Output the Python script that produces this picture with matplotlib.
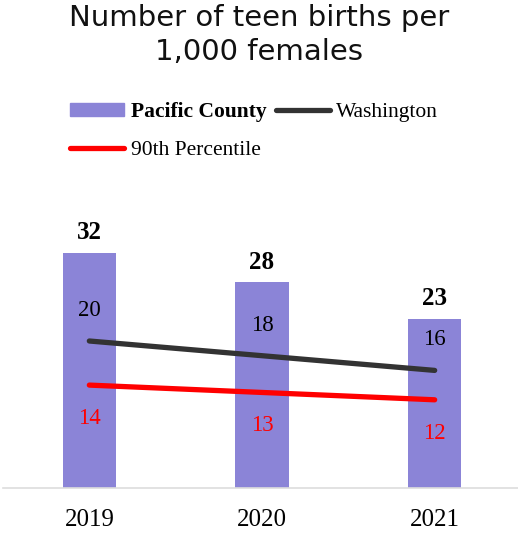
import matplotlib
matplotlib.use("Agg")
import matplotlib.pyplot as plt
from matplotlib.patches import Patch
from matplotlib.lines import Line2D

years = ["2019", "2020", "2021"]
pacific = [32, 28, 23]
washington = [20, 18, 16]
pct90 = [14, 13, 12]

PURPLE = "#8B84D7"
DARK = "#333333"
RED = "#FF0000"
SERIF = "Liberation Serif"

fig = plt.figure(figsize=(5.18, 5.33), dpi=100)
ax = fig.add_axes([3/518, 45/533, 1.0, 294/533])
x = list(range(len(years)))

ax.bar(x, pacific, width=0.31, color=PURPLE, zorder=1)
ax.plot(x, washington, color=DARK, lw=3.8, solid_capstyle="round", zorder=2)
ax.plot(x, pct90, color=RED, lw=3.8, solid_capstyle="round", zorder=2)

ax.set_xlim(-0.5, 2.5)
ax.set_ylim(0, 40)

for xi, v in zip(x, pacific):
    ax.annotate(str(v), (xi, v), xytext=(0, 14.5), textcoords="offset points",
                ha="center", va="center", fontsize=18, fontweight="bold",
                family=SERIF, color="black")
for xi, v in zip(x, washington):
    ax.annotate(str(v), (xi, v), xytext=(0, 22), textcoords="offset points",
                ha="center", va="center", fontsize=16.5, family=SERIF, color="black")
for xi, v in zip(x, pct90):
    ax.annotate(str(v), (xi, v), xytext=(0, -24), textcoords="offset points",
                ha="center", va="center", fontsize=16.5, family=SERIF, color=RED)

ax.set_xticks(x)
ax.set_xticklabels(years, fontsize=18, family=SERIF)
ax.tick_params(axis="x", length=0, pad=15)
ax.set_yticks([])
for s in ["top", "left", "right"]:
    ax.spines[s].set_visible(False)
ax.spines["bottom"].set_color("#dddddd")
ax.spines["bottom"].set_linewidth(1.2)

fig.text(0.5, 0.993, "Number of teen births per\n1,000 females", ha="center", va="top",
         fontsize=21, family="DejaVu Sans", color="#111111", linespacing=1.3)

handles = [Patch(color=PURPLE),
           Line2D([], [], color=RED, lw=3.8, solid_capstyle="round"),
           Line2D([], [], color=DARK, lw=3.8, solid_capstyle="round")]
labels = ["Pacific County", "90th Percentile", "Washington"]
leg = fig.legend(handles, labels, ncol=2, loc="upper left",
                 bbox_to_anchor=(51/518, 1 - 83/533), frameon=False,
                 prop={"family": SERIF, "size": 15.5}, handlelength=2.5,
                 handletextpad=0.3, columnspacing=0.45, labelspacing=0.85,
                 handleheight=0.55)
for t in leg.get_texts():
    if t.get_text() == "Pacific County":
        t.set_fontweight("bold")

fig.savefig("out.png", dpi=100)
